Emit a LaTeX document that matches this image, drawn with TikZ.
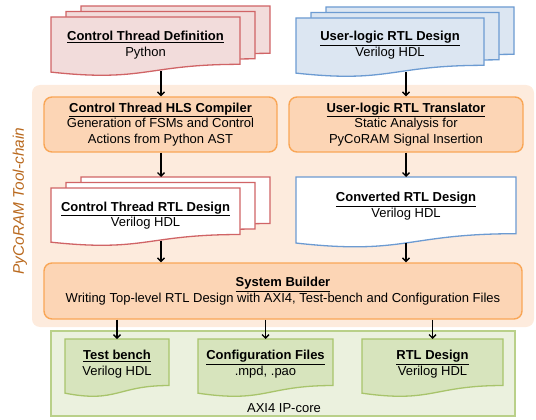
\documentclass[tikz,border=0pt]{standalone}
\usepackage{fontspec}
\setmainfont{Liberation Sans}
\usetikzlibrary{arrows.meta}

\definecolor{redline}{RGB}{208,100,102}
\definecolor{redfill}{RGB}{242,220,219}
\definecolor{blueline}{RGB}{108,155,210}
\definecolor{bluefill}{RGB}{220,230,242}
\definecolor{orline}{RGB}{249,166,86}
\definecolor{orfill}{RGB}{252,213,181}
\definecolor{orback}{RGB}{253,235,221}
\definecolor{grline}{RGB}{168,196,107}
\definecolor{grfill}{RGB}{215,228,189}
\definecolor{grback}{RGB}{235,241,222}
\definecolor{sidecol}{RGB}{185,105,30}

% one page of the document shape: style, left x, right x, top y, height
\newcommand{\docpage}[5]{%
  \draw[#1] (#2,#4) -- (#3,#4) -- (#3,{#4+0.802*#5})
    .. controls ({(#2+#3)/2},{#4+0.802*#5}) and ({(#2+#3)/2},{#4+1.1075*#5}) .. (#2,{#4+0.934*#5}) -- cycle;}
% three pages stacked
\newcommand{\docstack}[5]{%
  \docpage{#1}{#2+30}{#3+30}{#4-11}{#5}
  \docpage{#1}{#2+15}{#3+15}{#4-5.5}{#5}
  \docpage{#1}{#2}{#3}{#4}{#5}}

\begin{document}
\begin{tikzpicture}[x=1pt, y=-1pt,
  font=\fontsize{13}{15.5}\selectfont,
  doctext/.style={align=center, inner sep=0pt},
  redpage/.style={draw=redline, fill=redfill, line width=1.3pt},
  redwhite/.style={draw=redline, fill=white, line width=1.3pt},
  bluepage/.style={draw=blueline, fill=bluefill, line width=1.3pt},
  bluewhite/.style={draw=blueline, fill=white, line width=1.3pt},
  greenpage/.style={draw=grline, fill=grfill, line width=1.3pt},
  procbox/.style={draw=orline, fill=orfill, line width=1.4pt, rounded corners=8pt, align=center, inner sep=0pt},
  flow/.style={-{Straight Barb[length=3.5pt,width=7pt]}, line width=1.3pt}]
\useasboundingbox (0,0) rectangle (536,420);

% backgrounds
\fill[orback, rounded corners=8pt] (32,85) rectangle (534,327);
\draw[grline!80, fill=grback, line width=1.4pt] (51,331) rectangle (515,416);
\node[rotate=90, font=\fontsize{15.4}{18}\selectfont\itshape, text=sidecol] (toolchain) at (20,201) {PyCoRAM Tool-chain};
\node (ipcore) at (284,408) {AXI4 IP-core};

% inputs
\docstack{redpage}{51}{240}{17}{59}
\node[doctext] (ctdef) at (145.5,45) {\underline{\textbf{Control Thread Definition}}\\Python};
\coordinate (ctdef-out) at (161,71);
\docstack{bluepage}{296}{484}{18}{59}
\node[doctext] (uldef) at (390,45) {\underline{\textbf{User-logic RTL Design}}\\Verilog HDL};
\coordinate (uldef-out) at (406,72);

% tool-chain
\node[procbox, minimum width=233pt, minimum height=55pt] (hls) at (160.5,124.5)
  {\underline{\textbf{Control Thread HLS Compiler}}\\Generation of FSMs and Control\\Actions from Python AST};
\node[procbox, minimum width=234pt, minimum height=55pt] (trans) at (406,124.5)
  {\underline{\textbf{User-logic RTL Translator}}\\Static Analysis for\\PyCoRAM Signal Insertion};

\docstack{redwhite}{51}{240}{188}{58}
\node[doctext] (ctrtl) at (145.5,215.5) {\underline{\textbf{Control Thread RTL Design}}\\Verilog HDL};
\coordinate (ctrtl-in) at (161,177);
\coordinate (ctrtl-out) at (161,241);
\docpage{bluewhite}{296}{516}{177}{70.7}
\node[doctext] (conv) at (406,206) {\underline{\textbf{Converted RTL Design}}\\Verilog HDL};
\coordinate (conv-in) at (406,177);
\coordinate (conv-out) at (406,243);

\node[procbox, minimum width=478pt, minimum height=56pt] (sb) at (283,291)
  {\underline{\textbf{System Builder}}\\Writing Top-level RTL Design with AXI4, Test-bench and Configuration Files};

% outputs
\docpage{greenpage}{65}{169}{339}{58}
\node[doctext] (tb) at (117,364) {\underline{\textbf{Test bench}}\\Verilog HDL};
\coordinate (tb-in) at (117,339);
\docpage{greenpage}{198}{333}{339}{58}
\node[doctext] (cfg) at (265.5,364) {\underline{\textbf{Configuration Files}}\\.mpd, .pao};
\coordinate (cfg-in) at (265.5,339);
\docpage{greenpage}{362}{503}{339}{58}
\node[doctext] (rtl) at (432.5,364) {\underline{\textbf{RTL Design}}\\Verilog HDL};
\coordinate (rtl-in) at (432.5,339);

% arrows
\draw[flow] (ctdef-out) -- (ctdef-out |- hls.north);
\draw[flow] (uldef-out) -- (trans.north);
\draw[flow] (ctrtl-in |- hls.south) -- (ctrtl-in);
\draw[flow] (conv-in |- trans.south) -- (conv-in);
\draw[flow] (ctrtl-out) -- (ctrtl-out |- sb.north);
\draw[flow] (conv-out) -- (conv-out |- sb.north);
\draw[flow] (tb-in |- sb.south) -- (tb-in);
\draw[flow] (cfg-in |- sb.south) -- (cfg-in);
\draw[flow] (rtl-in |- sb.south) -- (rtl-in);

\end{tikzpicture}
\end{document}
